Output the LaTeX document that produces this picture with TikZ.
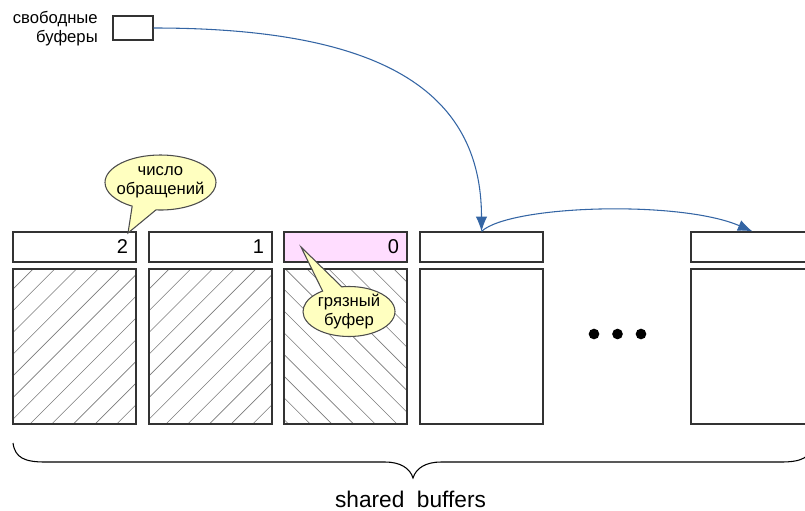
\documentclass[tikz,border=0pt]{standalone}
\usepackage{fontspec}
\setmainfont{Liberation Sans}
\usetikzlibrary{arrows.meta,shapes.callouts,calc}
\definecolor{arrowblue}{HTML}{3465A4}
\definecolor{dirtypink}{HTML}{FFDDFF}
\definecolor{calloutyellow}{HTML}{FFFFC0}
\definecolor{boxline}{HTML}{333333}
\definecolor{hatchgray}{HTML}{7A7A7A}
\begin{document}
\begin{tikzpicture}[x=0.75pt,y=-0.75pt,
  smalltext/.style={font=\fontsize{12.5}{14.25}\selectfont},
  cntbox/.style={draw=boxline, line width=0.9pt, minimum width=92.25pt, minimum height=22.5pt,
    inner xsep=6pt, inner ysep=0pt, text width=80.25pt, align=right, font=\fontsize{15}{18}\selectfont},
  datbox/.style={draw=boxline, line width=0.9pt, minimum width=92.25pt, minimum height=116.25pt, inner sep=0pt},
  hatchright/.style={path picture={
    \foreach \k in {-8,...,8}{
      \draw[hatchgray, line width=0.45pt] ($(path picture bounding box.south west)+(\k*21.7+17,0)$) -- ++(200,-200);}}},
  hatchleft/.style={path picture={
    \foreach \k in {-8,...,8}{
      \draw[hatchgray, line width=0.45pt] ($(path picture bounding box.south east)+(-\k*21.7-10,0)$) -- ++(-200,-200);}}},
  bubble/.style={ellipse callout, draw=black!70, line width=0.8pt, fill=calloutyellow, inner sep=0pt},
  bubbletext/.style={smalltext, align=center, inner sep=0pt},
  flow/.style={arrowblue, line width=0.8pt, -{Latex[length=11pt,width=8.5pt]}},
  dot/.style={circle, fill=black, inner sep=0pt, minimum size=8pt}
]
\clip (0,0) rectangle (805,510);

% free buffers list head
\node[smalltext, align=right, anchor=east, inner sep=0pt] (freelbl) at (98,28.5) {свободные\\буферы};
\node[draw=boxline, line width=0.9pt, minimum width=30pt, minimum height=18pt, inner sep=0pt] (free) at (133,28) {};

% counters
\node[cntbox] (c1) at (74.5,247) {2};
\node[cntbox] (c2) at (210.5,247) {1};
\node[cntbox, fill=dirtypink] (c3) at (345.5,247) {0};
\node[cntbox] (c4) at (481.5,247) {};
\node[cntbox] (c5) at (752.5,247) {};

% data buffers
\node[datbox, hatchright] (d1) at (74.5,346.5) {};
\node[datbox, hatchright] (d2) at (210.5,346.5) {};
\node[datbox, hatchleft] (d3) at (345.5,346.5) {};
\node[datbox] (d4) at (481.5,346.5) {};
\node[datbox] (d5) at (752.5,346.5) {};

% ellipsis
\node[dot] (e1) at (594,334) {};
\node[dot] (e2) at (617.5,334) {};
\node[dot] (e3) at (641,334) {};

% callouts
\coordinate (t1) at (128,233);
\coordinate (t2) at (301,247);
\node[bubble, minimum width=83.25pt, minimum height=41.25pt, callout absolute pointer={(t1)}, callout pointer arc=26,
  label={[bubbletext]center:число\\обращений}] (b1) at (160.5,182.5) {};
\node[bubble, minimum width=69pt, minimum height=37.5pt, callout absolute pointer={(t2)}, callout pointer arc=26,
  label={[bubbletext]center:грязный\\буфер}] (b2) at (349,311.5) {};

% arrows
\draw[flow] (free.east) .. controls (380,28) and (481.5,90) .. (c4.north);
\draw[flow] (c4.north) .. controls (510,205) and (680,200) .. (c5.north);

% brace
\draw[black, line width=0.8pt] (13,443) .. controls (15,458) and (25,462) .. (45,462) -- (385,462)
  .. controls (400,462) and (410,468) .. (413,478) .. controls (416,468) and (426,462) .. (441,462)
  -- (781,462) .. controls (801,462) and (811,458) .. (813,443);
\node[font=\fontsize{17}{20}\selectfont, anchor=base, inner sep=0pt] (sb) at (410.5,507) {shared\ \ buffers};
\end{tikzpicture}
\end{document}
